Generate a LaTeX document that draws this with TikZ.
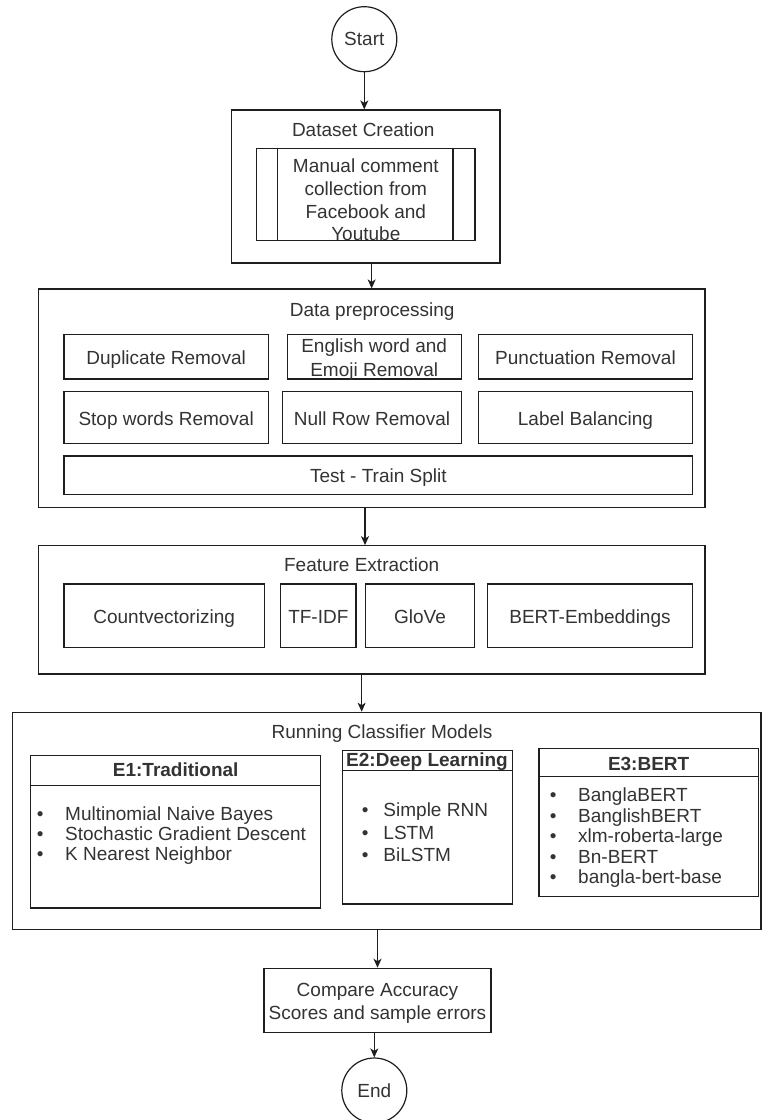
\documentclass[tikz,border=0pt]{standalone}
\usepackage{fontspec}
\setmainfont{Liberation Sans}
\usetikzlibrary{arrows.meta}
\definecolor{ink}{HTML}{333333}
\definecolor{edge}{HTML}{1E1E1E}
% strut that fixes the top of the first line of a multi-line label
\newcommand\firstline{\rule{0pt}{14pt}}
% bullet with a fixed indent before the item text
\newcommand\bulletin[1]{\makebox[#1][l]{\textbullet}}

\begin{document}
\begin{tikzpicture}[x=1pt,y=-1pt,
  every node/.style={font=\fontsize{19}{23}\selectfont, text=ink, inner sep=0pt},
  box/.style={draw=edge, line width=1.2pt, rectangle, text height=15.6pt, text depth=0pt},
  frame/.style={draw=edge, line width=1.2pt, rectangle},
  term/.style={draw=edge, line width=1.2pt, circle, minimum size=65pt},
  lbl/.style={anchor=base},
  multi/.style={anchor=north, align=center, font=\fontsize{19}{#1}\selectfont},
  items/.style={anchor=north west, align=left, font=\fontsize{19}{#1}\selectfont},
  arr/.style={draw=edge, line width=1.2pt, -{Stealth[length=9pt,width=8pt,inset=2.5pt]}},
]
\useasboundingbox (0,0) rectangle (762,1120);

% start
\node[term] (start) at (364.3,39.2) {Start};

% dataset creation
\node[frame, minimum width=268.3pt, minimum height=153pt] (ds) at (365.85,186.5) {};
\node[lbl] (dst) at (363.3,136.8) {Dataset Creation};
\node[frame, minimum width=218.3pt, minimum height=92.4pt] (mc) at (365.85,194.5) {};
\draw[edge, line width=1.2pt] ([xshift=21.6pt]mc.north west) -- ([xshift=21.6pt]mc.south west);
\draw[edge, line width=1.2pt] ([xshift=-22.7pt]mc.north east) -- ([xshift=-22.7pt]mc.south east);
\node[multi=22.8] (mct) at (365.8,158.3) {\firstline Manual comment\\collection from\\Facebook and\\Youtube};

% data preprocessing
\node[frame, minimum width=666.7pt, minimum height=218.3pt] (pp) at (371.65,398.15) {};
\node[lbl] (ppt) at (372.2,316) {Data preprocessing};
\node[box, minimum width=204.3pt, minimum height=44.7pt] (dup) at (166.15,356.65) {Duplicate Removal};
\node[frame, minimum width=174.4pt, minimum height=44.7pt] (eng) at (374.5,356.65) {};
\node[multi=24.4] (engt) at (374.2,338.3) {\firstline English word and\\Emoji Removal};
\node[box, minimum width=214.4pt, minimum height=44.7pt] (pun) at (585.5,356.65) {Punctuation Removal};
\node[box, minimum width=204.3pt, minimum height=51.6pt] (stw) at (166.15,417.5) {Stop words Removal};
\node[box, minimum width=179.4pt, minimum height=51.6pt] (nul) at (372,417.5) {Null Row Removal};
\node[box, minimum width=214.4pt, minimum height=51.6pt] (lab) at (585.5,417.5) {Label Balancing};
\node[box, minimum width=628.7pt, minimum height=38.3pt] (tts) at (378.35,475.15) {Test - Train Split};

% feature extraction
\node[frame, minimum width=666.7pt, minimum height=128.3pt] (fe) at (371.65,609.85) {};
\node[lbl] (fet) at (361.7,571.7) {Feature Extraction};
\node[box, minimum width=200.3pt, minimum height=63.7pt] (cv) at (164.15,615.85) {Countvectorizing};
\node[box, minimum width=75.3pt, minimum height=63.7pt] (tf) at (318.35,615.85) {TF-IDF};
\node[box, minimum width=108.6pt, minimum height=63.7pt] (gl) at (420,615.85) {GloVe};
\node[box, minimum width=205.4pt, minimum height=63.7pt] (be) at (590,615.85) {BERT-Embeddings};

% classifier models
\node[frame, minimum width=748.3pt, minimum height=217pt] (rc) at (386.85,820.8) {};
\node[lbl] (rct) at (382,738.3) {Running Classifier Models};

\node[frame, minimum width=290pt, minimum height=152.3pt] (e1) at (175.7,831.85) {};
\draw[edge, line width=1.2pt] ([yshift=-30pt]e1.north west) -- ([yshift=-30pt]e1.north east);
\node[lbl, font=\fontsize{19}{23}\selectfont\bfseries] (e1t) at (175.7,776.7) {E1:Traditional};
\node[items=20] (e1l) at (36.7,806) {\firstline\bulletin{28.3pt}Multinomial Naive Bayes\\
  \bulletin{28.3pt}Stochastic Gradient Descent\\
  \bulletin{28.3pt}K Nearest Neighbor};

\node[frame, minimum width=170.4pt, minimum height=153.3pt] (e2) at (427.5,827.35) {};
\draw[edge, line width=1.2pt] ([yshift=-20pt]e2.north west) -- ([yshift=-20pt]e2.north east);
\node[lbl, font=\fontsize{19}{23}\selectfont\bfseries] (e2t) at (427,766.8) {E2:Deep Learning};
\node[items=22.5] (e2l) at (361.7,802.7) {\firstline\bulletin{21.6pt}Simple RNN\\
  \bulletin{21.6pt}LSTM\\
  \bulletin{21.6pt}BiLSTM};

\node[frame, minimum width=219.3pt, minimum height=148.4pt] (e3) at (648.65,822.5) {};
\draw[edge, line width=1.2pt] ([yshift=-29pt]e3.north west) -- ([yshift=-29pt]e3.north east);
\node[lbl, font=\fontsize{19}{23}\selectfont\bfseries] (e3t) at (648.65,770) {E3:BERT};
\node[items=20.4] (e3l) at (549.7,787.7) {\firstline\bulletin{28.3pt}BanglaBERT\\
  \bulletin{28.3pt}BanglishBERT\\
  \bulletin{28.3pt}xlm-roberta-large\\
  \bulletin{28.3pt}Bn-BERT\\
  \bulletin{28.3pt}bangla-bert-base};

% comparison and end
\node[frame, minimum width=227pt, minimum height=64pt] (cmp) at (377.5,1000.3) {};
\node[multi=22.7] (cmpt) at (377.5,982.7) {\firstline Compare Accuracy\\Scores and sample errors};
\node[term] (end) at (374.3,1090.5) {End};

% flow
\draw[arr] (start) -- (start |- ds.north);
\draw[arr] (pp.north |- ds.south) -- (pp.north);
\draw[arr] ([xshift=-6.65pt]pp.south) -- ([xshift=-6.65pt]fe.north);
\draw[arr] ([xshift=-10pt]fe.south) -- ([xshift=-10pt]fe.south |- rc.north);
\draw[arr] (cmp.north |- rc.south) -- (cmp.north);
\draw[arr] (cmp.south -| end) -- (end);
\end{tikzpicture}
\end{document}
